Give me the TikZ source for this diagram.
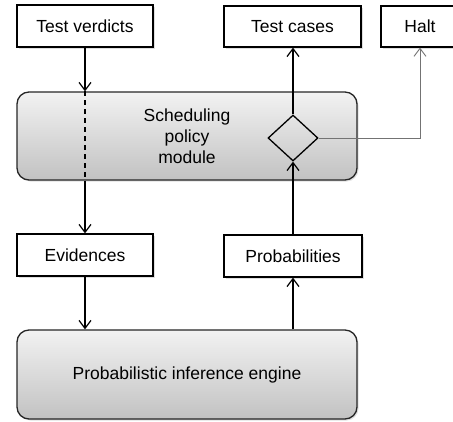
\documentclass[tikz,border=0pt]{standalone}
\usepackage{fontspec}
\setmainfont{Liberation Sans}
\usetikzlibrary{arrows.meta,shapes.geometric,shadows}
\begin{document}
\begin{tikzpicture}[x=1pt,y=-1pt,
  font=\fontsize{17.5}{21}\selectfont,
  box/.style={draw=black, line width=1.3pt, fill=white, inner sep=0pt,
    drop shadow={opacity=0.25, shadow xshift=1.5pt, shadow yshift=-1.5pt}},
  module/.style={draw=black!85, line width=1.3pt, rounded corners=12pt, inner sep=0pt,
    top color=black!5, bottom color=black!24, minimum width=340pt,
    drop shadow={opacity=0.25, shadow xshift=1.5pt, shadow yshift=-1.5pt}},
  arr/.style={line width=1.3pt, -{Straight Barb[length=8pt,width=12pt,line width=1.2pt]}},
  garr/.style={draw=black!55, line width=0.9pt, -{Straight Barb[length=8pt,width=12pt,line width=0.9pt]}},
  dec/.style={draw=black, line width=1.3pt, diamond, minimum width=50pt, minimum height=46pt, inner sep=0pt, aspect=1.08}
]
\clip (0,0) rectangle (453,421);
\node[box, minimum width=136pt, minimum height=42pt] (tv) at (85,26) {Test verdicts};
\node[box, minimum width=137pt, minimum height=41pt] (tc) at (292.5,26.5) {Test cases};
\node[box, minimum width=78pt, minimum height=41pt] (halt) at (420,26.5) {Halt};
\node[module, minimum height=88pt, align=center] (sched) at (187,136) {Scheduling\\policy\\module};
\node[dec] (d) at (293,138) {};
\node[box, minimum width=136pt, minimum height=42pt] (ev) at (85,255) {Evidences};
\node[box, minimum width=138pt, minimum height=42pt] (prob) at (293,256) {Probabilities};
\node[module, minimum height=89pt] (eng) at (187,374.5) {Probabilistic inference engine};

\draw[arr] (tv.south) -- (tv.south |- sched.north);
\draw[line width=1.3pt, dash pattern=on 5pt off 4pt] (tv.south |- sched.north) -- (tv.south |- sched.south);
\draw[arr] (tv.south |- sched.south) -- (ev.north);
\draw[arr] (ev.south) -- (ev.south |- eng.north);
\draw[arr] (prob.south |- eng.north) -- (prob.south);
\draw[arr] (prob.north) -- (d.south);
\draw[arr] (d.north) -- (d.north |- tc.south);
\draw[garr] (d.east) -| (halt.south);
\end{tikzpicture}
\end{document}
